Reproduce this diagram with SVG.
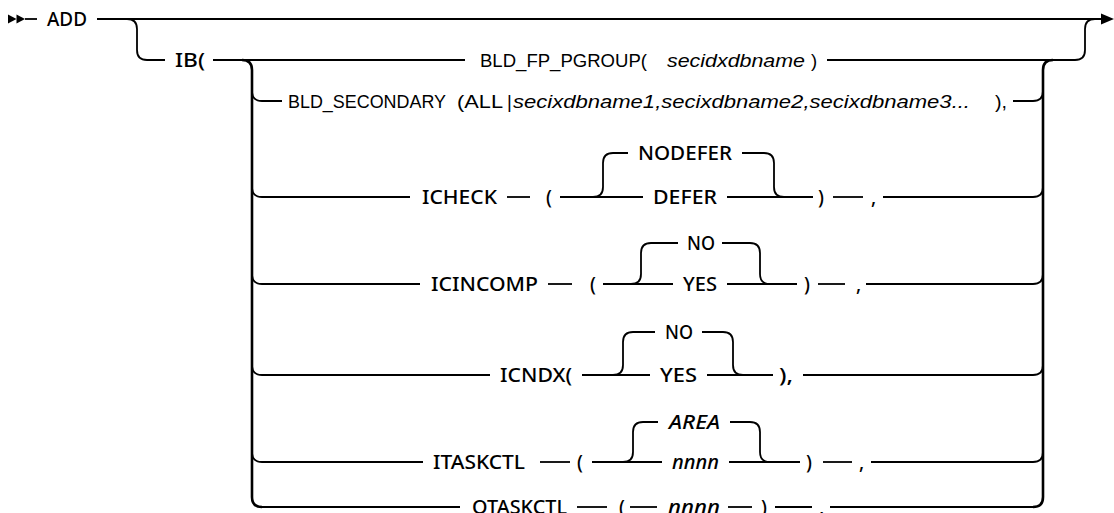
<svg xmlns="http://www.w3.org/2000/svg" width="1114" height="513" viewBox="0 0 1114 513">
<style>
.ln{fill:none;stroke:#000;stroke-width:1.8;stroke-linecap:butt}
.vb{fill:none;stroke:#000;stroke-width:2.6}
.lab{font-family:"Noto Sans","DejaVu Sans",sans-serif;font-size:19px;font-weight:500;fill:#000}
.hv{font-family:"Liberation Sans",Arial,sans-serif;font-size:18.5px;fill:#000}
.it{font-style:italic}
.ah{fill:#000}
</style>
<rect width="1114" height="513" fill="#fff"/>
<g id="connectors">
  <polygon class="ah" points="8,14.5 16.5,19 8,23.5"/>
  <polygon class="ah" points="16.5,14.5 25,19 16.5,23.5"/>
  <path class="ln" d="M25,19H37"/>
  <path class="ln" d="M97,19H1103"/>
  <polygon class="ah" points="1101,13.5 1114,19 1101,24.5"/>
  <path class="ln" d="M127,19Q137,19 137,29V50Q137,60 147,60H165"/>
  <path class="ln" d="M213,60H465"/>
  <path class="ln" d="M827,60H1075Q1085,60 1085,50V29Q1085,19 1095,19"/>
  <path class="vb" d="M242,60Q252,60 252,70V497Q252,507 262,507"/>
  <path class="vb" d="M1053,60Q1043,60 1043,70V497Q1043,507 1033,507"/>
  <!-- BLD_SECONDARY -->
  <path class="ln" d="M252,91Q252,101 262,101H282"/>
  <path class="ln" d="M1013,101H1033Q1043,101 1043,91"/>
  <!-- ICHECK -->
  <path class="ln" d="M252,187Q252,197 262,197H410"/>
  <path class="ln" d="M507,197H530"/>
  <path class="ln" d="M560,197H643"/>
  <path class="ln" d="M593,197Q603,197 603,187V163Q603,153 613,153H628"/>
  <path class="ln" d="M742,153H764Q774,153 774,163V187Q774,197 784,197"/>
  <path class="ln" d="M727,197H813"/>
  <path class="ln" d="M833,197H863"/>
  <path class="ln" d="M883,197H1033Q1043,197 1043,187"/>
  <!-- ICINCOMP -->
  <path class="ln" d="M252,274Q252,284 262,284H420"/>
  <path class="ln" d="M548,284H572"/>
  <path class="ln" d="M603,284H673"/>
  <path class="ln" d="M631,284Q641,284 641,274V253Q641,243 651,243H678"/>
  <path class="ln" d="M722,243H750Q760,243 760,253V274Q760,284 770,284"/>
  <path class="ln" d="M727,284H797"/>
  <path class="ln" d="M818,284H845"/>
  <path class="ln" d="M866,284H1033Q1043,284 1043,274"/>
  <!-- ICNDX -->
  <path class="ln" d="M252,365Q252,375 262,375H490"/>
  <path class="ln" d="M582,375H650"/>
  <path class="ln" d="M613,375Q623,375 623,365V342Q623,332 633,332H655"/>
  <path class="ln" d="M702,332H723Q733,332 733,342V365Q733,375 743,375"/>
  <path class="ln" d="M707,375H773"/>
  <path class="ln" d="M803,375H1033Q1043,375 1043,365"/>
  <!-- ITASKCTL -->
  <path class="ln" d="M252,452Q252,462 262,462H423"/>
  <path class="ln" d="M540,462H570"/>
  <path class="ln" d="M592,462H662"/>
  <path class="ln" d="M623,462Q633,462 633,452V432Q633,422 643,422H658"/>
  <path class="ln" d="M730,422H750Q760,422 760,432V452Q760,462 770,462"/>
  <path class="ln" d="M729,462H800"/>
  <path class="ln" d="M823,462H852"/>
  <path class="ln" d="M871,462H1033Q1043,462 1043,452"/>
  <!-- OTASKCTL -->
  <path class="ln" d="M262,507H460"/>
  <path class="ln" d="M577,507H607"/>
  <path class="ln" d="M630,507H657"/>
  <path class="ln" d="M728,507H752"/>
  <path class="ln" d="M775,507H812"/>
  <path class="ln" d="M830,507H1033"/>
</g>
<g id="node-add"><text class="lab" x="47" y="26" textLength="40" lengthAdjust="spacingAndGlyphs">ADD</text></g>
<g id="node-ib"><text class="lab" x="175" y="67" textLength="30" lengthAdjust="spacingAndGlyphs">IB(</text></g>
<g id="node-bld-fp">
  <text class="hv" x="480" y="67" textLength="167" lengthAdjust="spacingAndGlyphs">BLD_FP_PGROUP(</text>
  <text class="hv it" x="667" y="67" textLength="138" lengthAdjust="spacingAndGlyphs">secidxdbname</text>
  <text class="hv" x="811" y="67">)</text>
</g>
<g id="node-bld-secondary">
  <text class="hv" x="288" y="108" textLength="158" lengthAdjust="spacingAndGlyphs">BLD_SECONDARY</text>
  <text class="hv" x="457" y="108" textLength="46" lengthAdjust="spacingAndGlyphs">(ALL</text>
  <text class="hv" x="507" y="108">|</text>
  <text class="hv it" x="513" y="108" textLength="457" lengthAdjust="spacingAndGlyphs">secixdbname1,secixdbname2,secixdbname3...</text>
  <text class="hv" x="995" y="108" textLength="12" lengthAdjust="spacingAndGlyphs">),</text>
</g>
<g id="node-icheck">
  <text class="lab" x="422" y="204" textLength="75" lengthAdjust="spacingAndGlyphs">ICHECK</text>
  <text class="lab" x="546" y="204">(</text>
  <text class="lab" x="638" y="160" textLength="94" lengthAdjust="spacingAndGlyphs">NODEFER</text>
  <text class="lab" x="653" y="204" textLength="64" lengthAdjust="spacingAndGlyphs">DEFER</text>
  <text class="lab" x="818" y="204">)</text>
  <text class="lab" x="871" y="204">,</text>
</g>
<g id="node-icincomp">
  <text class="lab" x="431" y="291" textLength="107" lengthAdjust="spacingAndGlyphs">ICINCOMP</text>
  <text class="lab" x="590" y="291">(</text>
  <text class="lab" x="687" y="250" textLength="28" lengthAdjust="spacingAndGlyphs">NO</text>
  <text class="lab" x="683" y="291" textLength="34" lengthAdjust="spacingAndGlyphs">YES</text>
  <text class="lab" x="804" y="291">)</text>
  <text class="lab" x="856" y="291">,</text>
</g>
<g id="node-icndx">
  <text class="lab" x="500" y="382" textLength="72" lengthAdjust="spacingAndGlyphs">ICNDX(</text>
  <text class="lab" x="665" y="339" textLength="28" lengthAdjust="spacingAndGlyphs">NO</text>
  <text class="lab" x="660" y="382" textLength="37" lengthAdjust="spacingAndGlyphs">YES</text>
  <text class="lab" x="779" y="382" textLength="14" lengthAdjust="spacingAndGlyphs">),</text>
</g>
<g id="node-itaskctl">
  <text class="lab" x="433" y="469" textLength="92" lengthAdjust="spacingAndGlyphs">ITASKCTL</text>
  <text class="lab" x="577" y="469">(</text>
  <text class="lab it" x="669" y="429" textLength="51" lengthAdjust="spacingAndGlyphs">AREA</text>
  <text class="lab it" x="672" y="469" textLength="47" lengthAdjust="spacingAndGlyphs">nnnn</text>
  <text class="lab" x="806" y="469">)</text>
  <text class="lab" x="859" y="469">,</text>
</g>
<g id="node-otaskctl">
  <text class="lab" x="472" y="514" textLength="95" lengthAdjust="spacingAndGlyphs">OTASKCTL</text>
  <text class="lab" x="619" y="514">(</text>
  <text class="lab it" x="668" y="514" textLength="52" lengthAdjust="spacingAndGlyphs">nnnn</text>
  <text class="lab" x="761" y="514">)</text>
  <text class="lab" x="819" y="514">,</text>
</g>
</svg>
